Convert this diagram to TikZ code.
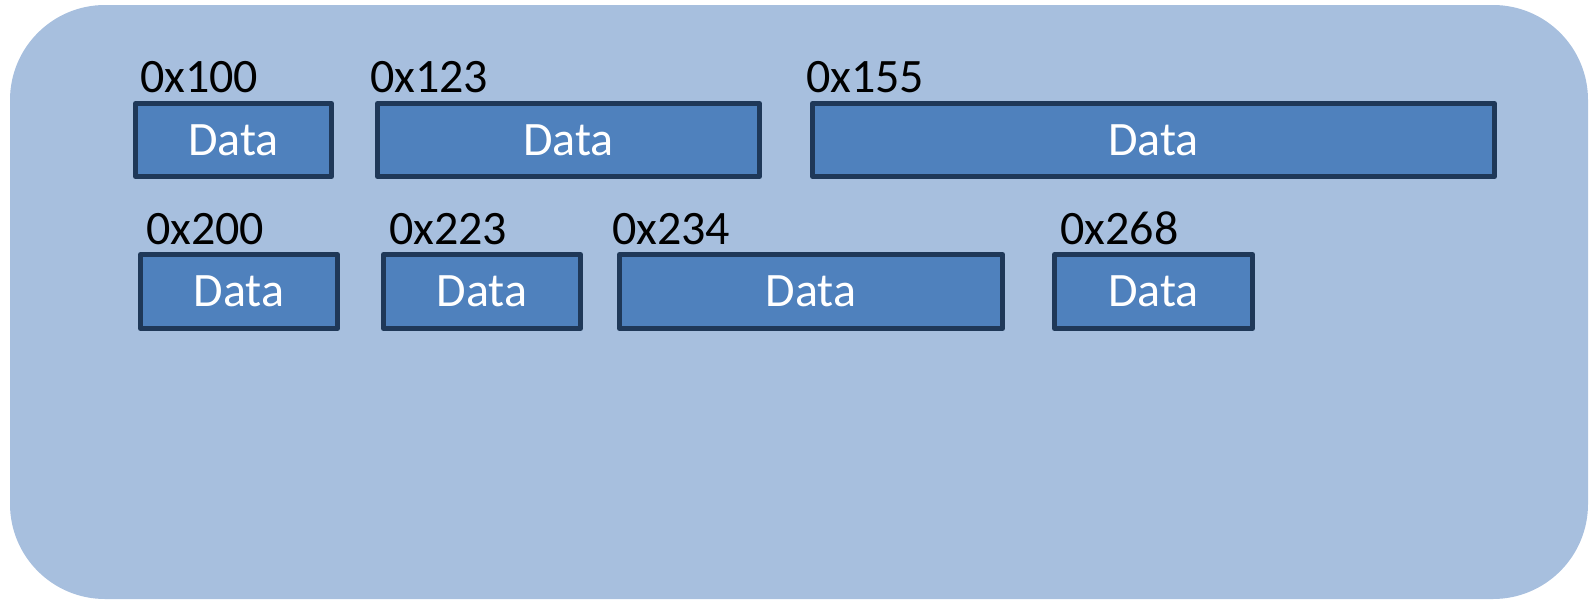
\documentclass[tikz,border=0pt]{standalone}
\usepackage{fontspec}
\setmainfont{Carlito}
\definecolor{bgblue}{HTML}{A7BFDE}
\definecolor{boxblue}{HTML}{4F81BD}
\definecolor{boxline}{HTML}{1F3858}
\begin{document}
\begin{tikzpicture}[x=1pt,y=-1pt,
  databox/.style={draw=boxline, fill=boxblue, line width=5pt, line join=round, rectangle,
    inner sep=0pt, text=white, font=\fontsize{48}{48}\selectfont},
  addr/.style={anchor=base west, inner sep=0pt, font=\fontsize{48}{48}\selectfont}]
\useasboundingbox (0,0) rectangle (1591,600);
\fill[bgblue, rounded corners=95pt] (10,5) rectangle (1588,599);
% row 1
\node[databox, minimum width=196pt, minimum height=73pt] (b1) at (233.5,140) {Data};
\node[databox, minimum width=382pt, minimum height=73pt] (b2) at (568.5,140) {Data};
\node[databox, minimum width=682pt, minimum height=73pt] (b3) at (1153.5,140) {Data};
\node[addr] (l1) at (140,92) {0x100};
\node[addr] (l2) at (370,92) {0x123};
\node[addr] (l3) at (806,92) {0x155};
% row 2
\node[databox, minimum width=197pt, minimum height=74pt] (b4) at (239,291.5) {Data};
\node[databox, minimum width=197pt, minimum height=74pt] (b5) at (482,291.5) {Data};
\node[databox, minimum width=383pt, minimum height=74pt] (b6) at (811,291.5) {Data};
\node[databox, minimum width=198pt, minimum height=74pt] (b7) at (1153.5,291.5) {Data};
\node[addr] (l4) at (146,244) {0x200};
\node[addr] (l5) at (389,244) {0x223};
\node[addr] (l6) at (612,244) {0x234};
\node[addr] (l7) at (1060,244) {0x268};
\end{tikzpicture}
\end{document}
